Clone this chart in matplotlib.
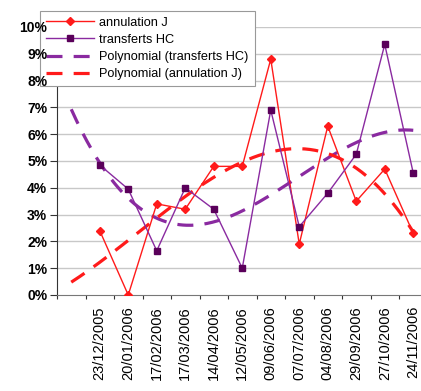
import numpy as np
import matplotlib
matplotlib.use("Agg")
import matplotlib.pyplot as plt
from matplotlib.ticker import FuncFormatter

# first category slot is blank in the original sheet
dates = ["", "23/12/2005", "20/01/2006", "17/02/2006", "17/03/2006", "14/04/2006",
         "12/05/2006", "09/06/2006", "07/07/2006", "04/08/2006", "29/09/2006",
         "27/10/2006", "24/11/2006"]
annulation_j = [2.4, 0.0, 3.4, 3.2, 4.8, 4.8, 8.8, 1.9, 6.3, 3.5, 4.7, 2.3]
transferts_hc = [4.85, 3.95, 1.65, 4.0, 3.2, 1.0, 6.9, 2.55, 3.8, 5.25, 9.35, 4.55]
trend_order = 3

red = "#ff1a1a"
purple_line = "#8a2aa0"
purple_mark = "#5a005a"

plt.rcParams['font.family'] = ['Liberation Sans', 'DejaVu Sans']

fig = plt.figure(figsize=(4.21, 3.91), dpi=100)
ax = fig.add_axes([57 / 421, 96 / 391, 370.5 / 421, 268 / 391])

x_all = np.arange(len(dates))
x_data = x_all[1:]

# excel style polynomial trendlines over the whole category range
xs = np.linspace(0, len(dates) - 1, 200)
fit_hc = np.polyval(np.polyfit(x_data, transferts_hc, trend_order), xs)
fit_j = np.polyval(np.polyfit(x_data, annulation_j, trend_order), xs)

l1, = ax.plot(x_data, annulation_j, color=red, lw=1.0, marker="D", ms=4,
              mfc=red, mec=red, zorder=4)
l2, = ax.plot(x_data, transferts_hc, color=purple_line, lw=1.0, marker="s", ms=5,
              mfc=purple_mark, mec=purple_mark, zorder=4)
l3, = ax.plot(xs, fit_hc, color=purple_line, lw=2.3, dashes=(5, 3.5), zorder=3)
l4, = ax.plot(xs, fit_j, color=red, lw=2.3, dashes=(5, 3.5), zorder=3)

ax.set_xlim(-0.5, len(dates) - 0.5)
ax.set_ylim(0, 10)
yvals = np.arange(0, 11, 1)
ax.set_yticks(yvals)
ax.yaxis.set_major_formatter(FuncFormatter(lambda v, p: f"{int(v)}%"))
# gridlines drawn by hand so the legend can sit over them but under the tick labels
for v in yvals[1:]:
    ax.axhline(v, color="#c8c8c8", lw=1.0, zorder=0.2)
ax.set_axisbelow(True)

ax.set_xticks(np.arange(-0.5, len(dates), 1))
ax.set_xticklabels([])
ax.set_xticks(x_all, minor=True)
ax.set_xticklabels(dates, minor=True, rotation=90, fontsize=10.5)
ax.tick_params(axis="x", which="minor", length=0, pad=8)
ax.tick_params(axis="x", which="major", length=3, color="#333333", direction="out")
ax.tick_params(axis="y", length=5, labelsize=10, pad=2, color="#333333")
for t in ax.get_yticklabels():
    t.set_fontweight("bold")
# tick marks hidden behind the legend box
for v, tk in zip(yvals, ax.yaxis.get_major_ticks()):
    if v >= 8:
        tk.tick1line.set_visible(False)

for s in ["top", "right"]:
    ax.spines[s].set_visible(False)
ax.spines["left"].set_color("#333333")
ax.spines["left"].set_zorder(0.3)
ax.spines["bottom"].set_color("#777777")

leg = ax.legend([l1, l2, l3, l4],
                ["annulation J", "transferts HC", "Polynomial (transferts HC)",
                 "Polynomial (annulation J)"],
                loc="upper left", bbox_to_anchor=(40 / 421, 1 - 11 / 391),
                bbox_transform=fig.transFigure,
                fontsize=9.2, frameon=True, fancybox=False, framealpha=1,
                handlelength=3.8, borderpad=0.45, borderaxespad=0,
                labelspacing=0.4, handletextpad=0.4)
leg.get_frame().set_edgecolor("#999999")
leg.get_frame().set_linewidth(0.8)
leg.set_zorder(0.4)

fig.savefig("out.png", dpi=100)
